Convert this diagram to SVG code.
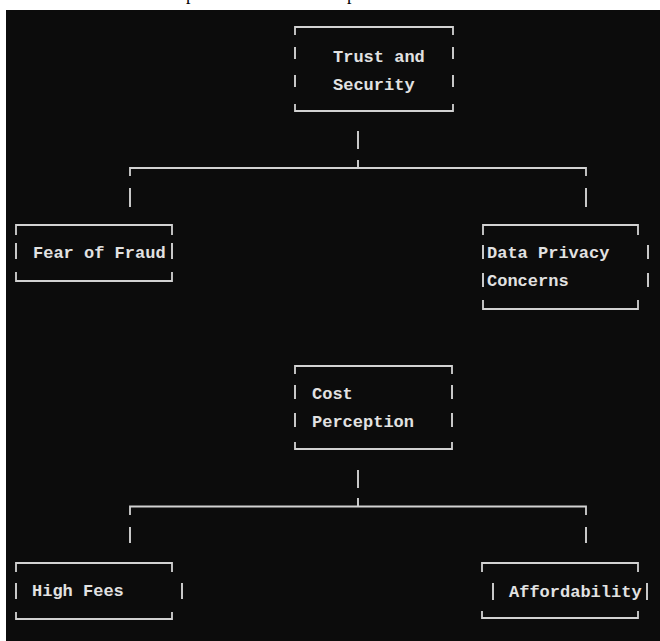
<svg xmlns="http://www.w3.org/2000/svg" width="660" height="641" viewBox="0 0 660 641">
  <style>
    .ln { fill: none; stroke: #d2d2d2; stroke-width: 1.8; }
    .bar { fill: none; stroke: #d2d2d2; stroke-width: 1.9; }
    .t { font-family: "Liberation Mono", "DejaVu Sans Mono", monospace; font-size: 17px; font-weight: bold; fill: #e2e2e2; }
    .frag { font-family: "Liberation Serif", serif; font-size: 18px; fill: #000000; }
  </style>
  <rect x="0" y="0" width="660" height="641" fill="#ffffff"/>
  <text class="frag" x="186" y="-0.5">p</text>
  <text class="frag" x="347" y="-0.5">p</text>
  <rect x="6" y="10" width="654" height="631" fill="#0c0c0c"/>

  <g id="connectors">
    <path class="bar" d="M358,131 V149 M358,160 V168"/>
    <path class="ln" d="M130,176 V168 H586 V176"/>
    <path class="bar" d="M130,188 V207 M586,188 V207"/>
    <path class="bar" d="M358,470 V488 M358,498 V506"/>
    <path class="ln" d="M130,515 V506.5 H586 V515"/>
    <path class="bar" d="M130,527 V543 M586,527 V543"/>
  </g>

  <g id="trust">
    <path class="ln" d="M295,35 V27 H453 V35 M295,104 V111 H453 V104"/>
    <path class="bar" d="M295,47 V59 M295,75 V87 M453,47 V59 M453,75 V87"/>
    <text class="t" x="333" y="62">Trust and</text>
    <text class="t" x="333" y="90">Security</text>
  </g>

  <g id="fraud">
    <path class="ln" d="M16,235 V225 H172 V235 M16,272 V281 H172 V272"/>
    <path class="bar" d="M16,243 V259 M172,243 V259"/>
    <text class="t" x="33" y="258">Fear of Fraud</text>
  </g>

  <g id="privacy">
    <path class="ln" d="M483,235 V225 H638 V235 M483,300 V309 H638 V300"/>
    <path class="bar" d="M483,245 V259 M483,273 V287 M648,245 V259 M648,273 V287"/>
    <text class="t" x="487" y="258">Data Privacy</text>
    <text class="t" x="487" y="286">Concerns</text>
  </g>

  <g id="cost">
    <path class="ln" d="M295,374 V366 H452 V374 M295,442 V449 H452 V442"/>
    <path class="bar" d="M295,385 V399 M295,413 V427 M452,385 V399 M452,413 V427"/>
    <text class="t" x="312" y="399">Cost</text>
    <text class="t" x="312" y="427">Perception</text>
  </g>

  <g id="fees">
    <path class="ln" d="M16,572 V563 H172 V572 M16,612 V619 H172 V612"/>
    <path class="bar" d="M16,583 V599 M182,583 V599"/>
    <text class="t" x="32" y="596">High Fees</text>
  </g>

  <g id="afford">
    <path class="ln" d="M482,572 V563 H638 V572 M482,611 V618 H638 V611"/>
    <path class="bar" d="M493,583 V600 M647,583 V600"/>
    <text class="t" x="509" y="597">Affordability</text>
  </g>
</svg>
